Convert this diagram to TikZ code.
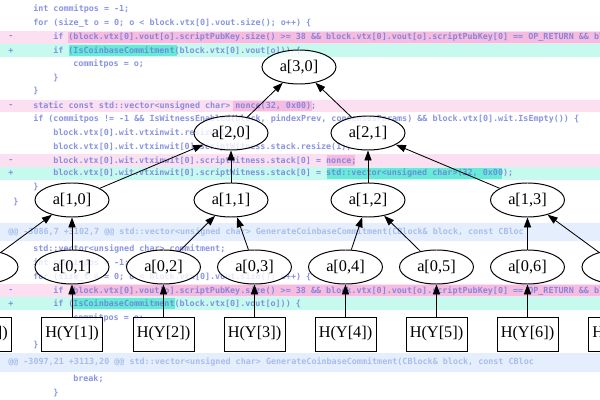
\documentclass[tikz,border=0pt]{standalone}
\usepackage{fontspec}
\setmainfont{Liberation Serif}
\setmonofont{DejaVu Sans Mono}
\usetikzlibrary{arrows.meta,shapes.geometric}

\definecolor{codeblue}{RGB}{104,118,218}
\definecolor{hunkblue}{RGB}{150,176,232}
\definecolor{delband}{RGB}{252,224,241}
\definecolor{deldark}{RGB}{246,188,224}
\definecolor{addband}{RGB}{198,250,238}
\definecolor{adddark}{RGB}{104,234,216}
\definecolor{hunkband}{RGB}{229,238,252}

\tikzset{
  code/.style={anchor=west, inner sep=0pt, text=codeblue, text opacity=0.78,
    font=\fontsize{5.97}{7}\selectfont\ttfamily\bfseries},
  hunk/.style={code, text=hunkblue},
  hashnode/.style={ellipse, draw, fill=white, fill opacity=0.8, text opacity=1,
    minimum width=1.85cm, minimum height=0.85cm, inner sep=0pt, line width=0.7pt,
    font=\fontsize{11.6}{13}\selectfont},
  leafbox/.style={rectangle, draw, fill=white, fill opacity=0.85, text opacity=1,
    minimum width=1.525cm, minimum height=0.85cm, inner sep=0pt, line width=0.7pt,
    font=\fontsize{11.6}{13}\selectfont},
  edge/.style={-{Triangle[length=0.25cm,width=0.18cm]}, line width=0.6pt}
}

\begin{document}
\begin{tikzpicture}[x=0.025cm, y=-0.025cm]
\clip (0,0) rectangle (600,400);
\fill[white] (0,0) rectangle (600,400);

% Diff bands
\fill[delband] (0,31) rectangle (600,44);
\fill[addband] (0,44) rectangle (600,57);
\fill[delband] (0,100) rectangle (600,112);
\fill[delband] (0,154) rectangle (600,167);
\fill[addband] (0,167) rectangle (600,180);
\fill[hunkband] (0,223) rectangle (600,241);
\fill[delband] (0,284) rectangle (600,297);
\fill[addband] (0,297) rectangle (600,310);
\fill[hunkband] (0,353) rectangle (600,372);

% Changed words
\fill[deldark] (68,32) rectangle (600,43);
\fill[adddark] (69,45) rectangle (177,56);
\fill[deldark] (233,101) rectangle (312,111);
\fill[deldark] (327,155) rectangle (355,166);
\fill[adddark] (327,168) rectangle (502,179);
\fill[deldark] (70,285) rectangle (600,296);
\fill[adddark] (72,298) rectangle (175,309);

% Markers
\node[code] (m1) at (8,37) {-};
\node[code] (m2) at (8,51) {+};
\node[code] (m3) at (8,106) {-};
\node[code] (m4) at (8,161) {-};
\node[code] (m5) at (8,173) {+};
\node[code] (m6) at (8,291) {-};
\node[code] (m7) at (8,304) {+};

% Code, first hunk
\node[code] (c1) at (33,9) {int commitpos = -1;};
\node[code] (c2) at (33,23) {for (size\_t o = 0; o < block.vtx[0].vout.size(); o++) \{};
\node[code] (c3) at (53,37) {if (block.vtx[0].vout[o].scriptPubKey.size() >= 38 \&\& block.vtx[0].vout[o].scriptPubKey[0] == OP\_RETURN \&\& block.vtx[0]};
\node[code] (c4) at (53,51) {if (IsCoinbaseCommitment(block.vtx[0].vout[o])) \{};
\node[code] (c5) at (73,64) {commitpos = o;};
\node[code] (c6) at (53,78) {\}};
\node[code] (c7) at (33,91) {\}};
\node[code] (c8) at (33,106) {static const std::vector<unsigned char> nonce(32, 0x00);};
\node[code] (c9) at (33,119) {if (commitpos != -1 \&\& IsWitnessEnabled(block, pindexPrev, consensusParams) \&\& block.vtx[0].wit.IsEmpty()) \{};
\node[code] (c10) at (53,133) {block.vtx[0].wit.vtxinwit.resize(1);};
\node[code] (c11) at (53,147) {block.vtx[0].wit.vtxinwit[0].scriptWitness.stack.resize(1);};
\node[code] (c12) at (53,161) {block.vtx[0].wit.vtxinwit[0].scriptWitness.stack[0] = nonce;};
\node[code] (c13) at (53,173) {block.vtx[0].wit.vtxinwit[0].scriptWitness.stack[0] = std::vector<unsigned char>(32, 0x00);};
\node[code] (c14) at (33,187) {\}};
\node[code] (c15) at (13,202) {\}};

% Code, second hunk
\node[hunk] (k1) at (8,232) {@@ -3086,7 +3102,7 @@ std::vector<unsigned char> GenerateCoinbaseCommitment(CBlock\& block, const CBloc};
\node[code] (c16) at (33,249) {std::vector<unsigned char> commitment;};
\node[code] (c17) at (33,263) {int commitpos = -1;};
\node[code] (c18) at (33,277) {for (size\_t o = 0; o < block.vtx[0].vout.size(); o++) \{};
\node[code] (c19) at (53,291) {if (block.vtx[0].vout[o].scriptPubKey.size() >= 38 \&\& block.vtx[0].vout[o].scriptPubKey[0] == OP\_RETURN \&\& block.vtx[0]};
\node[code] (c20) at (53,304) {if (IsCoinbaseCommitment(block.vtx[0].vout[o])) \{};
\node[code] (c21) at (73,318) {commitpos = o;};
\node[code] (c23) at (33,345) {\}};
\node[hunk] (k2) at (8,362) {@@ -3097,21 +3113,20 @@ std::vector<unsigned char> GenerateCoinbaseCommitment(CBlock\& block, const CBloc};
\node[code] (c24) at (73,379) {break;};
\node[code] (c25) at (53,393) {\}};

% Hashed leaves
\node[leafbox] (h0) at (-19,334) {H(Y[0])};
\node[leafbox] (h1) at (72,334) {H(Y[1])};
\node[leafbox] (h2) at (163.5,334) {H(Y[2])};
\node[leafbox] (h3) at (254.5,334) {H(Y[3])};
\node[leafbox] (h4) at (345.5,334) {H(Y[4])};
\node[leafbox] (h5) at (436.5,334) {H(Y[5])};
\node[leafbox] (h6) at (527.5,334) {H(Y[6])};
\node[leafbox] (h7) at (619,334) {H(Y[7])};

% Level 0
\node[hashnode] (a00) at (-19,267) {a[0,0]};
\node[hashnode] (a01) at (72,267) {a[0,1]};
\node[hashnode] (a02) at (163.5,267) {a[0,2]};
\node[hashnode] (a03) at (254.5,267) {a[0,3]};
\node[hashnode] (a04) at (345.5,267) {a[0,4]};
\node[hashnode] (a05) at (436.5,267) {a[0,5]};
\node[hashnode] (a06) at (527.5,267) {a[0,6]};
\node[hashnode] (a07) at (619,267) {a[0,7]};

% Level 1
\node[hashnode] (a10) at (72,200) {a[1,0]};
\node[hashnode] (a11) at (231,200) {a[1,1]};
\node[hashnode] (a12) at (368,200) {a[1,2]};
\node[hashnode] (a13) at (527.5,200) {a[1,3]};

% Level 2 and root
\node[hashnode] (a20) at (231,133) {a[2,0]};
\node[hashnode] (a21) at (368,133) {a[2,1]};
\node[hashnode] (a30) at (299,67) {a[3,0]};

% Edges
\draw[edge] (h0) -- (a00);
\draw[edge] (h1) -- (a01);
\draw[edge] (h2) -- (a02);
\draw[edge] (h3) -- (a03);
\draw[edge] (h4) -- (a04);
\draw[edge] (h5) -- (a05);
\draw[edge] (h6) -- (a06);
\draw[edge] (h7) -- (a07);
\draw[edge] (a00) -- (a10);
\draw[edge] (a01) -- (a10);
\draw[edge] (a02) -- (a11);
\draw[edge] (a03) -- (a11);
\draw[edge] (a04) -- (a12);
\draw[edge] (a05) -- (a12);
\draw[edge] (a06) -- (a13);
\draw[edge] (a07) -- (a13);
\draw[edge] (a10) -- (a20);
\draw[edge] (a11) -- (a20);
\draw[edge] (a12) -- (a21);
\draw[edge] (a13) -- (a21);
\draw[edge] (a20) -- (a30);
\draw[edge] (a21) -- (a30);

\end{tikzpicture}
\end{document}
